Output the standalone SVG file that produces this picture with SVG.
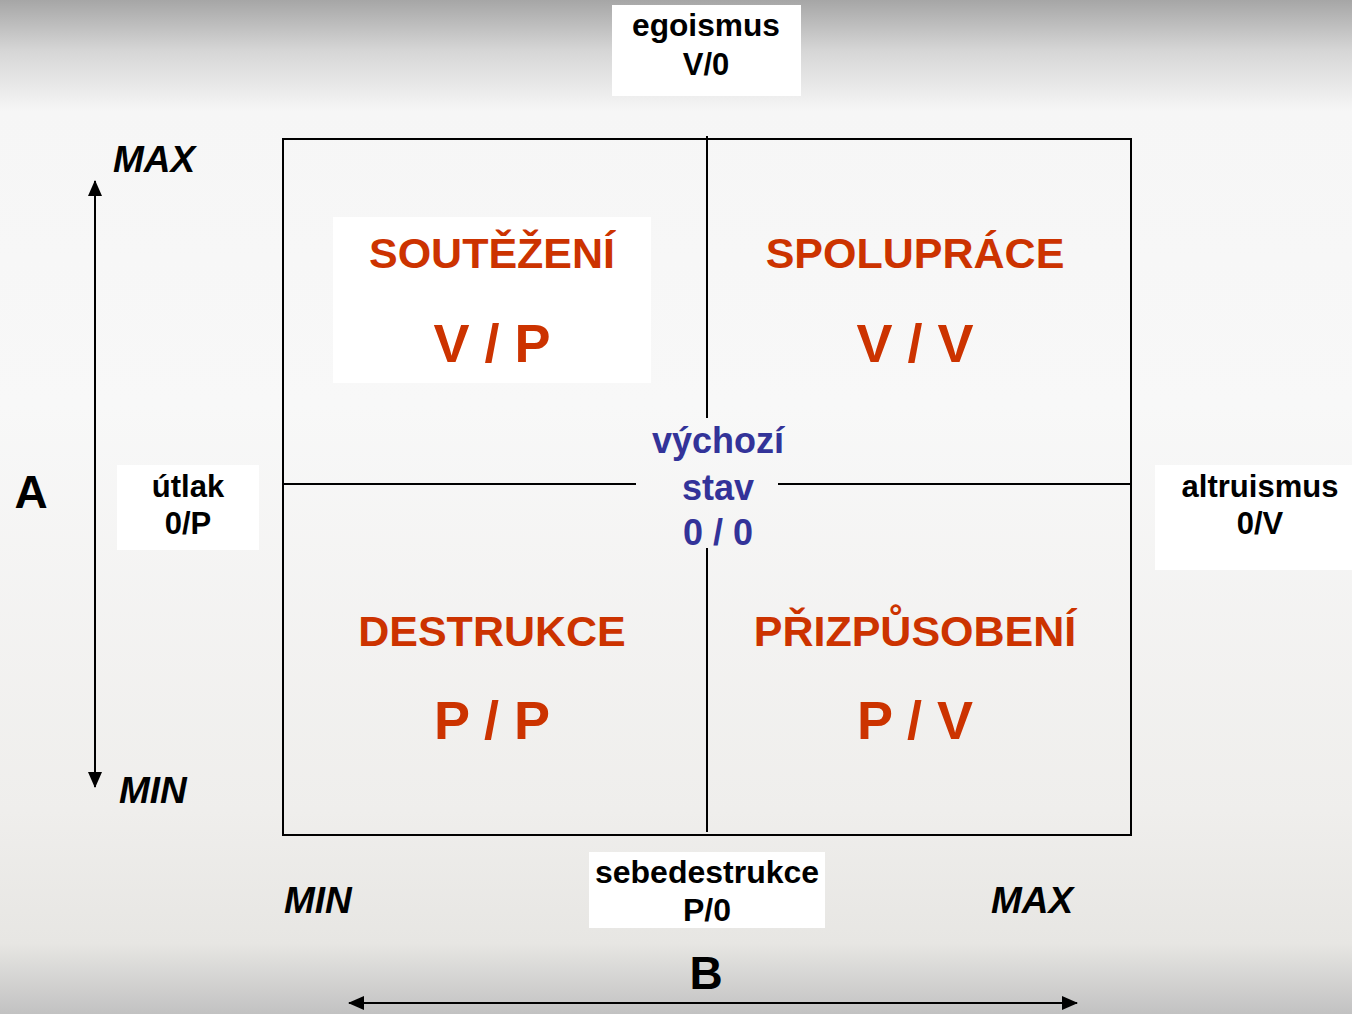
<svg xmlns="http://www.w3.org/2000/svg" width="1352" height="1014" viewBox="0 0 1352 1014">
<style>
.lbl{font-family:"Liberation Sans",Arial,sans-serif;font-weight:bold;fill:#000;text-anchor:middle}
.q{font-family:"Liberation Sans",Arial,sans-serif;font-weight:bold;fill:#cc3300;text-anchor:middle}
.c{font-family:"Liberation Sans",Arial,sans-serif;font-weight:bold;fill:#333399;text-anchor:middle;font-size:36px}
.ax{font-family:"Liberation Sans",Arial,sans-serif;font-weight:bold;font-style:italic;fill:#000;font-size:37px}
.box{fill:#fff}
.ln{stroke:#000;stroke-width:2;fill:none}
</style>
<defs>
<linearGradient id="bg" x1="0" y1="0" x2="0" y2="1">
<stop offset="0" stop-color="#a6a6a6"/>
<stop offset="0.05" stop-color="#d6d6d6"/>
<stop offset="0.11" stop-color="#f6f6f6"/>
<stop offset="0.4" stop-color="#f8f8f8"/>
<stop offset="0.8" stop-color="#efeeec"/>
<stop offset="0.93" stop-color="#e7e6e3"/>
<stop offset="1" stop-color="#c2c2c2"/>
</linearGradient>
<marker id="ah" markerWidth="16" markerHeight="14" refX="15" refY="7" orient="auto-start-reverse" markerUnits="userSpaceOnUse">
<path d="M0,0 L16,7 L0,14 Z" fill="#000"/>
</marker>
</defs>
<rect x="0" y="0" width="1352" height="1014" fill="url(#bg)"/>

<g id="connectors">
<rect class="ln" x="283" y="139" width="848" height="696"/>
<line class="ln" x1="707" y1="136" x2="707" y2="418"/>
<line class="ln" x1="707" y1="548" x2="707" y2="832"/>
<line class="ln" x1="283" y1="484" x2="636" y2="484"/>
<line class="ln" x1="778" y1="484" x2="1131" y2="484"/>
<line class="ln" x1="95" y1="181" x2="95" y2="787" marker-start="url(#ah)" marker-end="url(#ah)"/>
<line class="ln" x1="349" y1="1003" x2="1077" y2="1003" marker-start="url(#ah)" marker-end="url(#ah)"/>
</g>

<g id="egoismus">
<rect class="box" x="612" y="5" width="189" height="91"/>
<text class="lbl" x="706" y="36" font-size="31" textLength="148" lengthAdjust="spacingAndGlyphs">egoismus</text>
<text class="lbl" x="706" y="75" font-size="31">V/0</text>
</g>

<g id="utlak">
<rect class="box" x="117" y="465" width="142" height="85"/>
<text class="lbl" x="188" y="497" font-size="31">útlak</text>
<text class="lbl" x="188" y="534" font-size="31">0/P</text>
</g>

<g id="altruismus">
<rect class="box" x="1155" y="465" width="197" height="105"/>
<text class="lbl" x="1260" y="497" font-size="31">altruismus</text>
<text class="lbl" x="1260" y="534" font-size="31">0/V</text>
</g>

<g id="sebedestrukce">
<rect class="box" x="589" y="852" width="236" height="76"/>
<text class="lbl" x="707" y="883" font-size="32">sebedestrukce</text>
<text class="lbl" x="707" y="921" font-size="32">P/0</text>
</g>

<g id="souteżeni">
<rect class="box" x="333" y="217" width="318" height="166"/>
<text class="q" x="492" y="268" font-size="43">SOUTĚŽENÍ</text>
<text class="q" x="492" y="362" font-size="54">V / P</text>
</g>

<g id="spoluprace">
<text class="q" x="915" y="268" font-size="43">SPOLUPRÁCE</text>
<text class="q" x="915" y="362" font-size="54">V / V</text>
</g>

<g id="destrukce">
<text class="q" x="492" y="646" font-size="43">DESTRUKCE</text>
<text class="q" x="492" y="739" font-size="54">P / P</text>
</g>

<g id="prizpusobeni">
<text class="q" x="915" y="646" font-size="43">PŘIZPŮSOBENÍ</text>
<text class="q" x="915" y="739" font-size="54">P / V</text>
</g>

<g id="vychozi-stav">
<text class="c" x="718" y="453">výchozí</text>
<text class="c" x="718" y="500">stav</text>
<text class="c" x="718" y="545">0 / 0</text>
</g>

<g id="axis-labels">
<text class="ax" x="113" y="172">MAX</text>
<text class="ax" x="119" y="803">MIN</text>
<text class="ax" x="284" y="913">MIN</text>
<text class="ax" x="991" y="913">MAX</text>
<text class="lbl" x="31" y="508" font-size="46">A</text>
<text class="lbl" x="706" y="989" font-size="46">B</text>
</g>
</svg>
